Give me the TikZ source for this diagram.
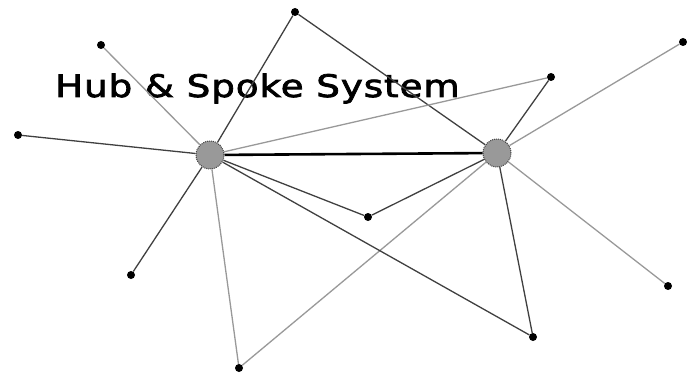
\documentclass[tikz,border=0pt]{standalone}
\usepackage{fontspec}
\newfontfamily\labelfont[FakeStretch=1.2,LetterSpace=3,FakeBold=2.5]{DejaVu Sans}
\usepackage{tikz}
\usepackage{xcolor}

\begin{document}
\begin{tikzpicture}[x=1pt,y=-1pt,
  hub/.style={circle,fill=gray!80,draw=black!75,densely dotted,line width=1pt,minimum size=28pt,inner sep=0pt},
  leaf/.style={circle,fill=black,minimum size=8pt,inner sep=0pt},
  darkspoke/.style={draw=black!75,line width=1.3pt},
  lightspoke/.style={draw=gray!80,line width=1.3pt},
  trunk/.style={draw=black,line width=2.6pt}]
\useasboundingbox (0,0) rectangle (687,377);
% hubs
\node[hub] (hubL) at (210,155) {};
\node[hub] (hubR) at (497,153) {};
% spoke ends
\node[leaf] (top) at (295,12) {};
\node[leaf] (nw) at (101,45) {};
\node[leaf] (west) at (18,135) {};
\node[leaf] (ne) at (551,77) {};
\node[leaf] (east) at (683,42) {};
\node[leaf] (mid) at (368,217) {};
\node[leaf] (sw) at (131,275) {};
\node[leaf] (se) at (668,286) {};
\node[leaf] (south) at (533,337) {};
\node[leaf] (ssw) at (239,368) {};
% title
\node[anchor=base west,inner sep=0pt,font=\labelfont\fontsize{31}{31}\selectfont] (title) at (55,97) {Hub \& Spoke System};
% spokes
\draw[trunk] (hubL) -- (hubR);
\draw[lightspoke] (hubL) -- (nw);
\draw[darkspoke] (hubL) -- (top);
\draw[darkspoke] (top) -- (hubR);
\draw[darkspoke] (hubL) -- (west);
\draw[lightspoke] (hubL) -- (ne);
\draw[darkspoke] (ne) -- (hubR);
\draw[lightspoke] (hubR) -- (east);
\draw[darkspoke] (hubL) -- (mid);
\draw[darkspoke] (mid) -- (hubR);
\draw[darkspoke] (hubL) -- (sw);
\draw[lightspoke] (hubL) -- (ssw);
\draw[lightspoke] (ssw) -- (hubR);
\draw[darkspoke] (hubL) -- (south);
\draw[darkspoke] (south) -- (hubR);
\draw[lightspoke] (hubR) -- (se);
\end{tikzpicture}
\end{document}
